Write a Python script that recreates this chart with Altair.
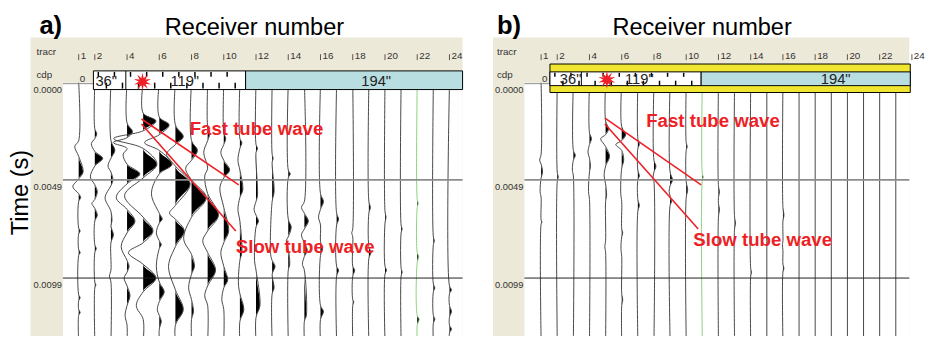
import math
import altair as alt
import pandas as pd

# ---------------- values ----------------
RECEIVERS = list(range(1, 25))
TRACR_LABELS = [1, 2, 4, 6, 8, 10, 12, 14, 16, 18, 20, 22, 24]
TIME_TICKS_MS = [0.0, 4.9, 9.9]
TIME_LABELS = ["0.0000", "0.0049", "0.0099"]
CDP_LABELS = ['36"', '119"', '194"']
CDP_ZERO = "0"
ANNOTATIONS = ["Fast tube wave", "Slow tube wave"]
GREEN_A = 22
GREEN_B = 11

# wiggle key points per receiver: (time in ms, amplitude in px) at zero crossings and extrema
TRACES_A = {
    1: [(2.9, 0), (3.2, -4), (3.7, 0), (4.5, 4.5), (4.85, 0), (5.25, -6), (5.6, 0), (5.8, 2), (6.0, 0),
        (7.35, 0), (7.5, 1.5), (7.65, 0), (8.45, 0), (8.6, 1.5), (8.75, 0), (10.75, 0), (10.9, 1.5), (11.05, 0),
        (11.5, 0), (11.65, 1.5), (11.8, 0)],
    2: [(2.3, 0), (2.55, 2), (2.8, 0), (3.05, -3.5), (3.45, 0), (3.8, 8), (4.2, 0), (4.75, -4.5), (5.15, 0),
        (5.5, 2.5), (5.9, 0), (6.1, -3), (6.35, 0), (6.7, 2.5), (7.0, 0), (8.2, 0), (8.4, 1.5), (8.6, 0),
        (10.1, 0), (10.25, 1), (10.4, 0)],
    3: [(2.9, 0), (3.4, 4), (3.8, 0), (4.2, -3), (4.5, 0), (4.9, 2), (5.2, 0), (5.8, -6), (6.5, 0), (7.0, 1),
        (7.25, 0), (7.7, 2.5), (8.1, 0), (9.5, 0), (9.8, -1.5), (10.1, 0)],
    4: [(2.0, 0), (2.45, 5.5), (2.75, 0), (3.0, -14), (3.3, 0), (3.6, -4), (4.1, 0), (4.6, 13), (5.1, 0),
        (5.8, -11), (6.4, 0), (7.0, 8), (7.6, 0), (8.3, -6), (9.0, 0), (9.3, 2), (9.6, 0), (9.9, -3), (10.3, 0),
        (10.8, 3), (11.3, 0), (11.8, -2), (12.3, 0)],
    5: [(1.5, 0), (1.9, 13), (2.4, 0), (2.8, -30), (3.3, 0), (4.1, 14), (4.8, 0), (5.7, -19), (6.8, 0),
        (7.5, 10), (8.1, 0), (8.6, -15), (9.2, 0), (9.9, 13), (10.6, 0), (11.3, -7), (12.0, 0)],
    6: [(1.7, 0), (2.1, 10), (2.6, 0), (3.0, -15), (3.4, 0), (4.1, 13), (4.6, 0), (5.6, -8), (6.6, 0),
        (6.9, 3), (7.1, 0), (7.6, -3), (8.0, 0), (8.2, 2), (8.4, 0), (9.3, -3), (10.1, 0), (10.6, 5), (11.1, 0),
        (11.5, -2), (11.8, 0), (12.1, 2), (12.5, 0)],
    7: [(2.1, 0), (2.7, 8), (3.1, 0), (3.6, -9), (4.2, 0), (5.1, 15), (6.2, 0), (6.6, -6), (6.9, 0), (7.5, 9),
        (8.3, 0), (9.3, -7), (10.5, 0), (11.5, 8), (12.3, 0)],
    8: [(2.9, 0), (3.4, 6), (3.9, 0), (4.3, -6), (4.9, 0), (5.8, 15), (6.8, 0), (7.9, -8), (8.7, 0), (9.3, 3),
        (9.7, 0), (10.4, -3), (11.0, 0), (11.6, 2), (12.0, 0)],
    9: [(2.2, 0), (2.55, 2), (2.9, 0), (3.5, -4), (4.3, 0), (4.7, -3), (5.6, 0), (6.7, 11), (7.5, 0), (8.0, -5),
        (8.6, 0), (9.5, 8), (10.3, 0), (10.8, -3), (11.3, 0)],
    10: [(2.5, 0), (2.8, 2), (3.1, 0), (3.5, -3), (3.9, 0), (4.4, 6), (4.8, 0), (5.3, -4), (6.3, 0), (7.5, 5),
         (8.1, 0), (8.6, -3), (9.3, 0), (10.0, 4), (10.4, 0), (11.0, -2), (11.5, 0)],
    11: [(2.8, 0), (3.0, 2), (3.3, 0), (3.9, -2), (4.4, 0), (5.4, 3), (5.8, 0), (6.4, -2), (7.0, 0), (8.6, 2),
         (9.0, 0), (10.2, -1.5), (10.7, 0), (11.5, 4), (12.1, 0)],
    12: [(3.1, 0), (3.3, 1.5), (3.5, 0), (5.7, 1.5), (6.0, 0), (6.4, -2), (6.7, 0), (7.0, 2.5), (7.3, 0),
         (9.0, -1.5), (9.5, 0), (11.3, 4), (11.9, 0)],
    13: [(3.6, 0), (3.8, 1), (4.0, 0), (5.5, 2), (6.0, 0), (8.7, -1.5), (9.0, 0), (9.3, 3), (9.7, 0),
         (10.4, 2), (10.7, 0)],
    14: [(4.4, 0), (4.6, 2), (4.8, 0), (6.9, 0), (7.3, 3), (7.8, 0), (8.0, -2), (8.4, 0), (9.2, 1.5), (9.5, 0)],
    15: [(6.0, 0), (6.3, -3), (6.6, 0), (7.0, 4), (7.4, 0), (7.7, -3), (8.1, 0), (8.5, 3), (8.8, 0),
         (9.2, -2), (9.5, 0), (11.8, 2), (12.1, 0)],
    16: [(5.6, 0), (6.0, 3), (6.4, 0), (6.8, -2), (7.2, 0), (8.05, 0), (8.4, 2), (8.75, 0), (11.3, 0),
         (11.6, 3), (12.0, 0)],
    17: [(6.6, 0), (6.9, 2), (7.2, 0), (9.3, 0), (9.5, 2), (9.8, 0)],
    18: [(7.4, 0), (7.6, -1), (7.8, 0), (9.3, 0), (9.5, 2), (9.8, 0), (11.0, 0), (11.1, 1), (11.3, 0)],
    19: [(6.0, 0), (6.3, 1.5), (6.6, 0), (8.3, 0), (8.6, 2), (8.9, 0)],
    20: [(6.5, 0), (6.8, 1), (7.1, 0), (9.3, 0), (9.5, 1.5), (9.7, 0)],
    21: [(7.2, 0), (7.4, 1), (7.6, 0), (9.4, 0), (9.6, 1), (9.8, 0)],
    22: [(5.9, 0), (6.1, 1), (6.3, 0), (8.6, 0), (8.8, 1.5), (9.1, 0), (11.8, 0), (12.0, 2), (12.3, 0)],
    23: [(7.8, 0), (8.0, 1), (8.2, 0), (10.2, 0), (10.4, 1.5), (10.6, 0), (11.8, 0), (12.0, 1.5), (12.2, 0)],
    24: [(10.3, 0), (10.5, 2), (10.7, 0), (11.3, 0), (11.6, 2), (11.9, 0), (12.3, 0), (12.5, 2), (12.7, 0)],
}

TRACES_B = {
    1: [(3.6, 0), (3.9, -1.5), (4.1, 0), (4.5, 1.5), (4.8, 0), (5.5, -1), (5.8, 0), (6.95, 0), (7.05, 0.8), (7.15, 0)],
    2: [(4.5, 0), (4.75, 1), (5.0, 0)],
    3: [(3.4, 0), (3.65, 2), (3.9, 0), (4.4, -1), (4.7, 0)],
    4: [(2.5, 0), (2.8, 2), (3.1, 0), (3.5, -1.5), (3.8, 0), (4.2, 1), (4.5, 0), (5.5, -1), (5.9, 0)],
    5: [(1.9, 0), (2.3, 3), (2.6, 0), (2.8, -5), (3.2, 0), (3.7, 4), (4.2, 0), (4.7, -1.5), (5.1, 0), (5.7, 1),
        (6.0, 0), (8.0, 0), (8.3, -0.8), (8.6, 0)],
    6: [(2.2, 0), (2.6, 4), (2.9, 0), (3.1, -6), (3.4, 0), (3.9, 2), (4.3, 0), (5.6, -1), (6.0, 0), (7.4, 0),
        (7.6, 1), (7.8, 0), (8.4, -0.8), (8.8, 0), (10.7, 0), (11.0, 1), (11.3, 0)],
    7: [(2.8, 0), (3.1, 1.5), (3.3, 0), (4.4, 0), (4.7, 1.5), (4.9, 0), (5.9, 0), (6.2, 1.5), (6.5, 0)],
    8: [(3.9, 0), (4.2, 2), (4.5, 0), (4.8, -1), (5.0, 0)],
    9: [(4.5, 0), (4.9, 2.5), (5.2, 0), (5.5, -1), (5.7, 0), (5.8, 0), (6.0, 1.5), (6.2, 0)],
    10: [(3.0, 0), (3.2, 1), (3.4, 0), (5.0, 0), (5.4, 1.5), (5.8, 0)],
    11: [(4.6, 0), (4.75, 1), (4.9, 0)],
    12: [(5.2, 0), (5.5, 1), (5.8, 0), (6.1, 0), (6.4, 1), (6.8, 0)],
    13: [(6.8, 0), (7.1, 1), (7.4, 0)],
    14: [(9.4, 0), (9.6, 0.8), (9.8, 0)],
    16: [(6.3, 0), (6.7, 1), (7.0, 0), (8.0, 0), (8.2, -0.5), (8.5, 0), (9.2, 0), (9.4, 1), (9.6, 0)],
}

# ---------------- layout / style ----------------
SP = 16.42          # px between receivers
PX_PER_MS = 20.0
T0_PY = 82.0
TOP, BOTTOM = 8, 339
VIEW_H = BOTTOM - TOP

BEIGE = "#ece9d8"
TEAL = "#b8dee2"
YELLOW = "#f0e632"
RED = "#ee1f26"
FONT = "Liberation Sans"


def ty(py):
    return (py - T0_PY) / PX_PER_MS


# starburst symbol
_star = []
for k in range(20):
    ang = k * math.pi / 10 - math.pi / 2
    rad = 1.0 if k % 2 == 0 else 0.42
    _star.append(f"{rad * math.cos(ang):.3f},{rad * math.sin(ang):.3f}")
STAR_PATH = "M" + " L".join(_star) + " Z"


def make_panel(p):
    r1 = p["r1"]

    def rx(px):
        return 1 + (px - r1) / SP

    xs = alt.Scale(domain=[rx(p["vx0"]), rx(p["vx0"] + p["vw"])], nice=False, zero=False)
    ys = alt.Scale(domain=[ty(TOP), ty(BOTTOM)], reverse=True, nice=False, zero=False)

    def X(f):
        return alt.X(f, type="quantitative", scale=xs, axis=None)

    def Y(f):
        return alt.Y(f, type="quantitative", scale=ys, axis=None)

    layers = []

    # backgrounds
    bg = pd.DataFrame([
        dict(x=rx(p["beige_x0"]), x2=rx(p["right"]), y=ty(35), y2=ty(BOTTOM), fill=BEIGE),
        dict(x=rx(p["plot_x0"]), x2=rx(p["right"]), y=ty(81), y2=ty(BOTTOM), fill="white"),
    ])
    layers.append(alt.Chart(bg).mark_rect(strokeWidth=0).encode(
        x=X("x"), x2="x2:Q", y=Y("y"), y2="y2:Q", fill=alt.Fill("fill:N", scale=None)))

    # traces
    rows = []
    for r in RECEIVERS:
        pts = [(ty(81), 0.0)] + list(p["traces"].get(r, [])) + [(ty(BOTTOM) + 0.3, 0.0)]
        for t, a in pts:
            rows.append(dict(trace=r, t=t, x=r + a / SP, xf=r + max(a, 0.0) / SP, base=float(r),
                             green=(r == p["green"])))
    tr = pd.DataFrame(rows)
    layers.append(alt.Chart(tr).mark_area(orient="horizontal", interpolate="monotone", color="black",
                                          clip=True).encode(
        x=X("xf"), x2="base:Q", y=Y("t"), detail="trace:N"))
    for is_green, col in [(False, "#454545"), (True, "#8bd07c")]:
        layers.append(alt.Chart(tr[tr.green == is_green]).mark_line(
            interpolate="catmull-rom", strokeWidth=1, color=col, clip=True).encode(
            x=X("x"), y=Y("t"), detail="trace:N", order="t:Q"))

    # time grid and labels
    grid = pd.DataFrame(dict(t=TIME_TICKS_MS, label=TIME_LABELS))
    grid["x"] = rx(p["plot_x0"])
    grid["x2"] = rx(p["right"])
    grid["xl"] = rx(p["tlabel_x"])
    grid["c"] = ["#8c8c8c", "#8c8c8c", "#1e1e1e"]
    grid["w"] = [1, 2, 1]
    layers.append(alt.Chart(grid).mark_rule().encode(
        x=X("x"), x2="x2:Q", y=Y("t"), color=alt.Color("c:N", scale=None),
        strokeWidth=alt.StrokeWidth("w:Q", scale=None)))
    layers.append(alt.Chart(grid).mark_text(align="right", baseline="middle", dy=7, font=FONT,
                                            fontSize=9.5, color="#333").encode(
        x=X("xl"), y=Y("t"), text="label:N"))

    # header boxes
    boxes = pd.DataFrame([dict(x=rx(a), x2=rx(c), y=ty(b), y2=ty(d), fill=f) for a, b, c, d, f in p["boxes"]])
    layers.append(alt.Chart(boxes).mark_rect(stroke="black", strokeWidth=1).encode(
        x=X("x"), x2="x2:Q", y=Y("y"), y2="y2:Q", fill=alt.Fill("fill:N", scale=None)))

    # hatching in white box + divider
    hx0, hx1 = p["hatch_x"]
    hatch = []
    xpos, k = hx0 + 5, 0
    while xpos < hx1 - 3:
        y0, y1 = p["hatch_top"] if k % 2 == 0 else p["hatch_bot"]
        hatch.append(dict(x=rx(xpos), y=ty(y0), y2=ty(y1), w=1.5))
        xpos += 8.2
        k += 1
    hatch.append(dict(x=rx(p["divider"]), y=ty(p["box_y"][0]), y2=ty(p["box_y"][1]), w=1))
    layers.append(alt.Chart(pd.DataFrame(hatch)).mark_rule(color="black").encode(
        x=X("x"), y=Y("y"), y2="y2:Q", strokeWidth=alt.StrokeWidth("w:Q", scale=None)))

    # tracr labels with small ticks
    tl = pd.DataFrame(dict(r=TRACR_LABELS, label=[str(v) for v in TRACR_LABELS]))
    tl["y"] = ty(52)
    tl["y2"] = ty(58)
    tl["yt"] = ty(54)
    layers.append(alt.Chart(tl).mark_rule(color="#555", strokeWidth=1).encode(
        x=X("r"), y=Y("y"), y2="y2:Q"))
    layers.append(alt.Chart(tl).mark_text(align="left", baseline="middle", dx=2, font=FONT, fontSize=10,
                                          color="#333").encode(x=X("r"), y=Y("yt"), text="label:N"))

    # small header texts
    small = pd.DataFrame([
        dict(x=rx(p["row_x"]), y=ty(50), text="tracr"),
        dict(x=rx(p["row_x"]), y=ty(73), text="cdp"),
        dict(x=rx(p["zero_xy"][0]), y=ty(p["zero_xy"][1]), text=CDP_ZERO),
    ])
    layers.append(alt.Chart(small).mark_text(align="left", baseline="middle", font=FONT, fontSize=10,
                                             color="#333").encode(x=X("x"), y=Y("y"), text="text:N"))

    seg = pd.DataFrame([dict(x=rx(px), y=ty(py), text=s) for (px, py), s in zip(p["seg_xy"], CDP_LABELS)])
    layers.append(alt.Chart(seg).mark_text(align="center", baseline="middle", font=FONT, fontSize=15,
                                           color="#222").encode(x=X("x"), y=Y("y"), text="text:N"))

    # red annotation lines, star, labels
    rl = pd.DataFrame([dict(x=rx(a[0]), y=ty(a[1]), x2=rx(b[0]), y2=ty(b[1])) for a, b in p["red_lines"]])
    layers.append(alt.Chart(rl).mark_rule(color=RED, strokeWidth=1.6).encode(
        x=X("x"), y=Y("y"), x2="x2:Q", y2="y2:Q"))
    st = pd.DataFrame([dict(x=rx(p["star"][0]), y=ty(p["star"][1]))])
    layers.append(alt.Chart(st).mark_point(shape=STAR_PATH, size=330, filled=True, color=RED, opacity=1,
                                           strokeWidth=0).encode(x=X("x"), y=Y("y")))
    rt = pd.DataFrame([dict(x=rx(px), y=ty(py), text=s) for (px, py), s in zip(p["red_text"], ANNOTATIONS)])
    layers.append(alt.Chart(rt).mark_text(align="left", baseline="middle", font=FONT, fontSize=19,
                                          fontWeight="bold", color=RED).encode(x=X("x"), y=Y("y"), text="text:N"))

    # titles
    tt = pd.DataFrame([dict(x=rx(p["letter_xy"][0]), y=ty(p["letter_xy"][1]), text=p["letter"])])
    layers.append(alt.Chart(tt).mark_text(align="left", baseline="alphabetic", font=FONT, fontSize=26,
                                          fontWeight="bold", color="black").encode(
        x=X("x"), y=Y("y"), text="text:N"))
    rn = pd.DataFrame([dict(x=rx(p["title_xy"][0]), y=ty(p["title_xy"][1]), text="Receiver number")])
    layers.append(alt.Chart(rn).mark_text(align="center", baseline="alphabetic", font=FONT, fontSize=24,
                                          color="black").encode(x=X("x"), y=Y("y"), text="text:N"))
    if p.get("ytitle"):
        yt = pd.DataFrame([dict(x=rx(p["ytitle"][0]), y=ty(p["ytitle"][1]), text="Time (s)")])
        layers.append(alt.Chart(yt).mark_text(align="center", baseline="middle", angle=270, font=FONT,
                                              fontSize=24, color="black").encode(
            x=X("x"), y=Y("y"), text="text:N"))

    return alt.layer(*layers).properties(width=p["vw"], height=VIEW_H)


PANEL_A = dict(
    traces=TRACES_A, green=GREEN_A, r1=80.0, vx0=8, vw=463, beige_x0=31, plot_x0=64, right=471,
    tlabel_x=63, row_x=37, zero_xy=(81, 77),
    boxes=[(95, 69, 250, 88, "white"), (250, 69, 471, 88, TEAL)],
    box_y=(69, 88), hatch_x=(95, 250), hatch_top=(70, 75), hatch_bot=(81, 87), divider=128,
    seg_xy=[(108, 79), (188, 79), (383, 79)], star=(145, 80),
    red_lines=[((144, 118), (243, 185)), ((144, 123), (240, 232))],
    red_text=[(193, 128), (240, 248)],
    letter="a)", letter_xy=(40, 31), title_xy=(259, 32), ytitle=(21, 193),
)

PANEL_B = dict(
    traces=TRACES_B, green=GREEN_B, r1=550.0, vx0=501, vw=424, beige_x0=501, plot_x0=533, right=925,
    tlabel_x=532, row_x=505, zero_xy=(551, 77),
    boxes=[(559, 62, 926, 91, YELLOW), (559, 70, 713, 84, "white"), (713, 70, 926, 84, TEAL)],
    box_y=(70, 84), hatch_x=(559, 713), hatch_top=(71, 75), hatch_bot=(79, 84), divider=591,
    seg_xy=[(580, 77), (650, 77), (850, 77)], star=(617, 78),
    red_lines=[((615, 117), (713, 185)), ((615, 123), (710, 230))],
    red_text=[(657, 120), (705, 241)],
    letter="b)", letter_xy=(505, 31), title_xy=(714, 32),
)

chart = (
    alt.hconcat(make_panel(PANEL_A), make_panel(PANEL_B), spacing=30)
    .resolve_scale(x="independent", y="independent")
    .properties(padding=0)
    .configure_view(stroke=None)
)

chart.save("out.html", embed_options={"renderer": "svg", "actions": False})
